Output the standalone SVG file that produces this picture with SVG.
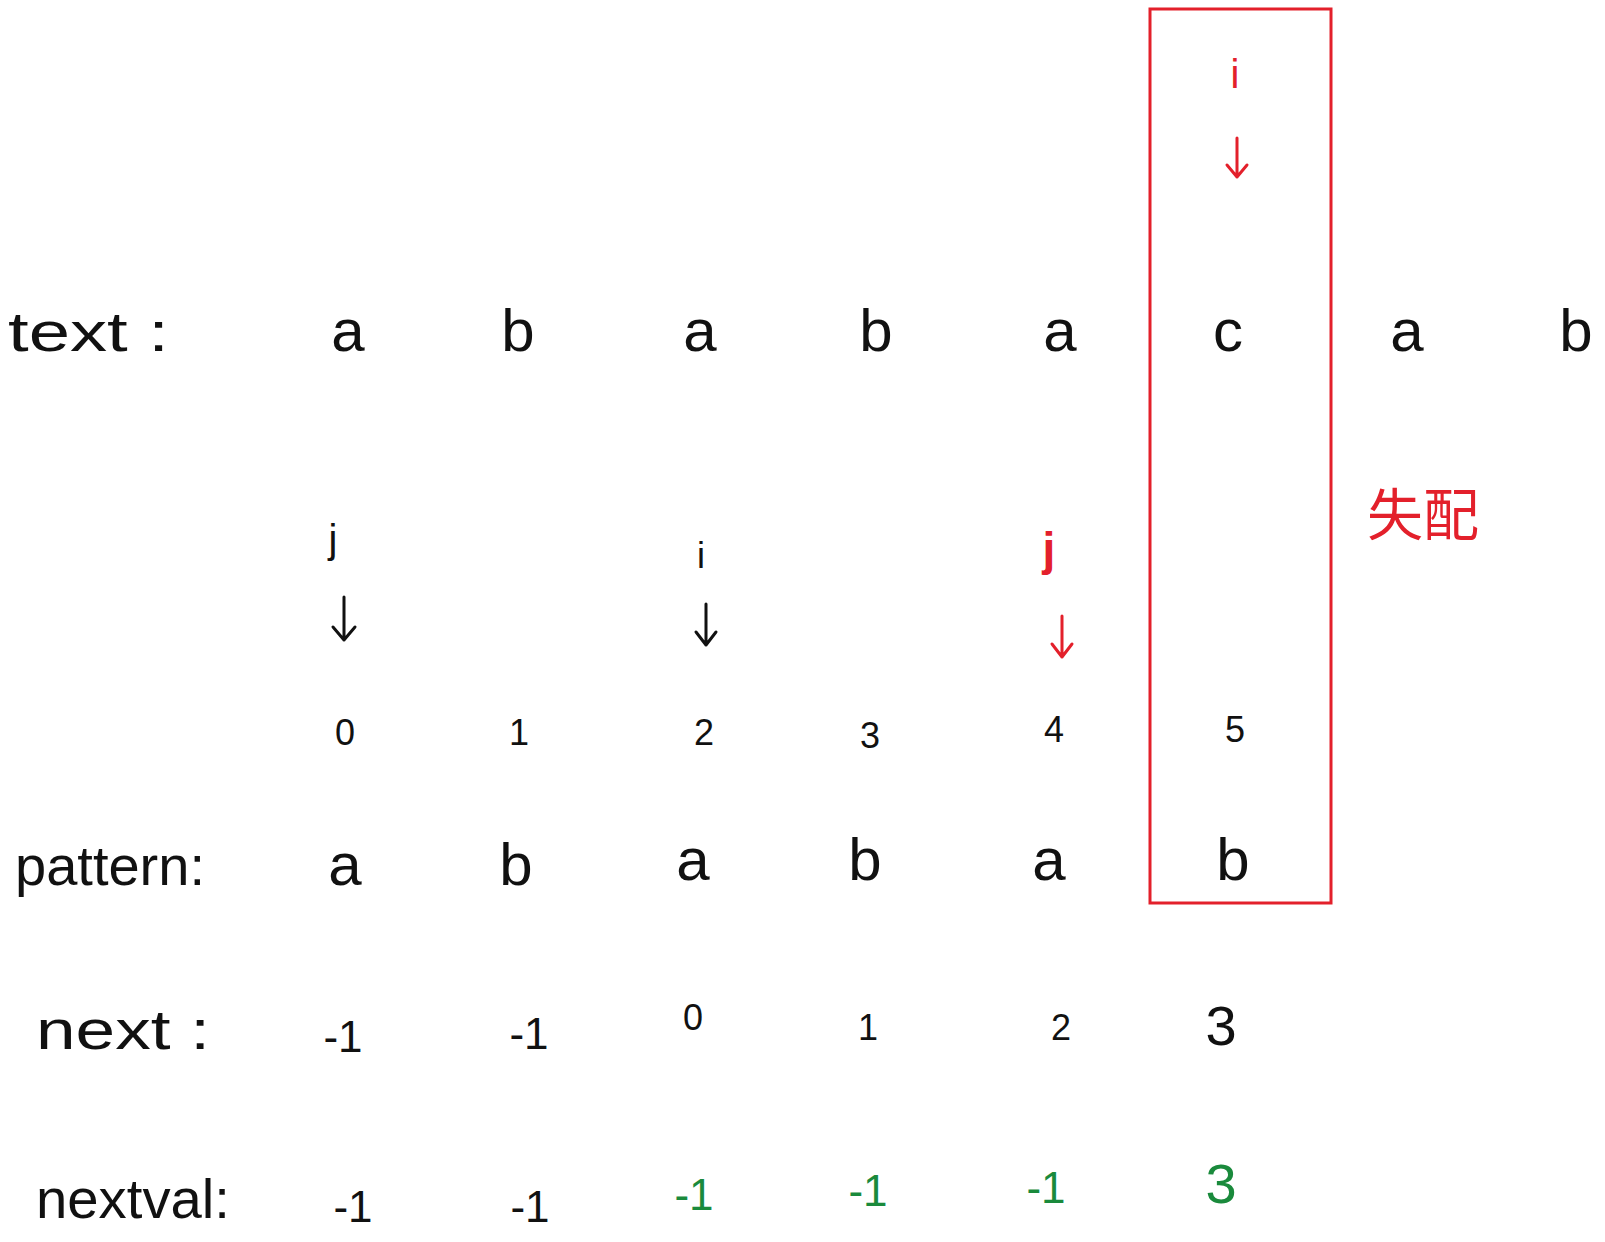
<svg xmlns="http://www.w3.org/2000/svg" width="1605" height="1242" viewBox="0 0 1605 1242">
<style>
.t{font-family:"Liberation Sans","Noto Sans CJK SC",sans-serif;fill:#111;text-anchor:middle}
.big{font-size:60px}
.num{font-size:36px}
.lab{font-size:56px;text-anchor:start}
.red{fill:#e3202b}
.green{fill:#1a8a3c}
.arr{fill:none;stroke:#111;stroke-width:3;stroke-linecap:round;stroke-linejoin:round}
.arr.r{stroke:#e3202b}
</style>
<rect width="1605" height="1242" fill="#fff"/>
<g id="mismatch-box"><rect x="1150" y="9" width="181" height="894" fill="none" stroke="#e3202b" stroke-width="3"/></g>
<g id="text-row">
<text class="t lab" x="8" y="351" textLength="161" lengthAdjust="spacingAndGlyphs">text :</text>
<text class="t big" x="348" y="351">a</text>
<text class="t big" x="518" y="351">b</text>
<text class="t big" x="700" y="351">a</text>
<text class="t big" x="876" y="351">b</text>
<text class="t big" x="1060" y="351">a</text>
<text class="t big" x="1228" y="351">c</text>
<text class="t big" x="1407" y="351">a</text>
<text class="t big" x="1576" y="351">b</text>
</g>
<g id="pointer-i-top"><text class="t red" style="font-size:40px" x="1235" y="88">i</text></g>
<g id="pointer-j-black"><text class="t" style="font-size:40px" x="333" y="553">j</text></g>
<g id="pointer-i-black"><text class="t" style="font-size:36px" x="701" y="568">i</text></g>
<g id="pointer-j-red"><text class="t red" style="font-size:46px;font-weight:bold" x="1049" y="565">j</text></g>
<g id="mismatch-label"><text class="t red" style="font-size:56px;text-anchor:start" x="1367" y="535">失配</text></g>
<g id="index-row">
<text class="t num" x="345" y="745">0</text>
<text class="t num" x="519" y="745">1</text>
<text class="t num" x="704" y="745">2</text>
<text class="t num" x="870" y="748">3</text>
<text class="t num" x="1054" y="742">4</text>
<text class="t num" x="1235" y="742">5</text>
</g>
<g id="pattern-row">
<text class="t lab" x="15" y="885" textLength="190" lengthAdjust="spacingAndGlyphs">pattern:</text>
<text class="t big" x="345" y="885">a</text>
<text class="t big" x="516" y="885">b</text>
<text class="t big" x="693" y="880">a</text>
<text class="t big" x="865" y="880">b</text>
<text class="t big" x="1049" y="880">a</text>
<text class="t big" x="1233" y="880">b</text>
</g>
<g id="next-row">
<text class="t lab" x="36" y="1049" textLength="174" lengthAdjust="spacingAndGlyphs">next :</text>
<text class="t" style="font-size:44px" x="343" y="1052">-1</text>
<text class="t" style="font-size:44px" x="529" y="1049">-1</text>
<text class="t num" x="693" y="1030">0</text>
<text class="t num" x="868" y="1040">1</text>
<text class="t num" x="1061" y="1040">2</text>
<text class="t" style="font-size:56px" x="1221" y="1045">3</text>
</g>
<g id="nextval-row">
<text class="t lab" x="36" y="1218" textLength="194" lengthAdjust="spacingAndGlyphs">nextval:</text>
<text class="t" style="font-size:44px" x="353" y="1222">-1</text>
<text class="t" style="font-size:44px" x="530" y="1222">-1</text>
<text class="t green" style="font-size:44px" x="694" y="1210">-1</text>
<text class="t green" style="font-size:44px" x="868" y="1206">-1</text>
<text class="t green" style="font-size:44px" x="1046" y="1203">-1</text>
<text class="t green" style="font-size:56px" x="1221" y="1203">3</text>
</g>
<g id="connectors">
<path class="arr r" d="M1237 138 V177 M1227 165 L1237 177 L1247 165"/>
<path class="arr" d="M344 597 V640 M333 627 L344 640 L355 627"/>
<path class="arr" d="M706 604 V645 M696 632 L706 645 L716 632"/>
<path class="arr r" d="M1062 616 V657 M1052 644 L1062 657 L1072 644"/>
</g>
</svg>
